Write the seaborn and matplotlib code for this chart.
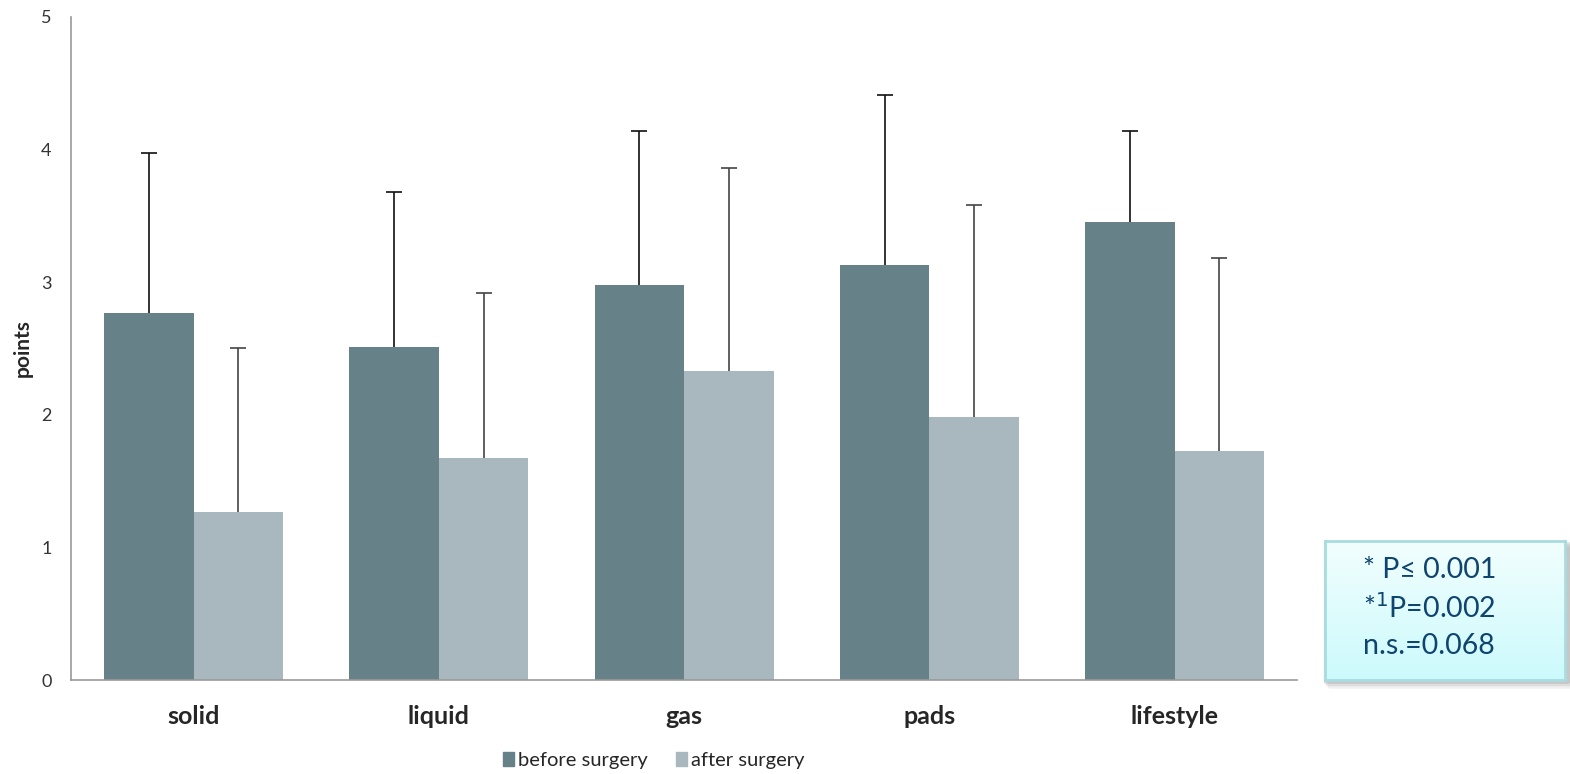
import numpy as np
import pandas as pd
import matplotlib
matplotlib.use("Agg")
import matplotlib.pyplot as plt
import seaborn as sns
from matplotlib.patches import FancyBboxPatch, Patch
from matplotlib.colors import LinearSegmentedColormap

# values
categories = ["solid", "liquid", "gas", "pads", "lifestyle"]
before = [2.77, 2.51, 2.98, 3.13, 3.45]
after = [1.27, 1.67, 2.33, 1.98, 1.73]
before_sd = [1.20, 1.17, 1.16, 1.28, 0.69]
after_sd = [1.23, 1.25, 1.53, 1.60, 1.45]
groups = ["before surgery", "after surgery"]
colors = ["#668187", "#A9B7BE"]

df = pd.DataFrame({
    "cat": categories * 2,
    "group": [groups[0]] * 5 + [groups[1]] * 5,
    "val": before + after,
})

sns.set_style("white")
plt.rcParams["font.family"] = ["Lato", "DejaVu Sans"]

fig = plt.figure(figsize=(15.7, 7.74), dpi=100)
ax = fig.add_axes([0.0452, 0.1214, 0.781, 0.857])

sns.barplot(data=df, x="cat", y="val", hue="group", palette=colors,
            width=0.73, gap=0, errorbar=None, saturation=1, linewidth=0,
            ax=ax, legend=False)

# upward-only error bars (stem + top cap only)
for cont, sd, ec in zip(ax.containers, [before_sd, after_sd], ["#111111", "#444444"]):
    xs = np.array([p.get_x() + p.get_width() / 2 for p in cont.patches])
    ys = np.array([p.get_height() for p in cont.patches])
    tops = ys + np.array(sd)
    ax.vlines(xs, ys, tops, color=ec, linewidth=1.2, zorder=3)
    ax.plot(xs, tops, ls="none", marker="_", markersize=11, mew=1.2,
            color=ec, zorder=3)

ax.set_ylim(0, 5)
ax.set_xlim(-0.5, 4.5)
ax.set_yticks([0, 1, 2, 3, 4, 5])
ax.tick_params(axis="y", length=0, pad=14, labelsize=13, labelcolor="#333333")
ax.tick_params(axis="x", length=0, pad=18)
for t in ax.get_xticklabels():
    t.set_fontweight("bold")
    t.set_fontsize(18)
ax.set_xlabel("")
ax.set_ylabel("points", fontweight="bold", fontsize=15, labelpad=6)
for s in ["top", "right"]:
    ax.spines[s].set_visible(False)
for s in ["left", "bottom"]:
    ax.spines[s].set_color("#999999")
    ax.spines[s].set_linewidth(1.2)

handles = [Patch(color=c, label=g) for c, g in zip(colors, groups)]
fig.legend(handles=handles, loc="center", bbox_to_anchor=(0.4166, 0.017), ncol=2,
           frameon=False, fontsize=14.5, handlelength=0.55, handleheight=0.7,
           handletextpad=0.2, columnspacing=1.4)

# p-value note box: soft shadow + vertical gradient fill
bx, by, bw, bh = 1325 / 1570, 94 / 774, 240 / 1570, 139 / 774
for k, a in enumerate([0.10, 0.15, 0.22]):
    off = (6 - 2 * k) / 1570
    fig.patches.append(FancyBboxPatch((bx + off, by - off * 1570 / 774 * 1.2), bw, bh,
                                      boxstyle="round,pad=0.002", transform=fig.transFigure,
                                      facecolor="#777777", edgecolor="none", alpha=a,
                                      zorder=0))
gax = fig.add_axes([bx, by, bw, bh])
gax.set_zorder(2)
grad = LinearSegmentedColormap.from_list("g", ["#CCFAFC", "#F2FEFE"])
gax.imshow(np.linspace(0, 1, 100)[:, None], aspect="auto", cmap=grad, origin="lower",
           extent=[0, 1, 0, 1])
gax.set_xticks([])
gax.set_yticks([])
for s in gax.spines.values():
    s.set_color("#A9DCDF")
    s.set_linewidth(2)

note = ["* P\u2264 0.001", "*$^{1}$P=0.002", "n.s.=0.068"]
for i, line in enumerate(note):
    gax.text((1363 - 1325) / 240, (680 - 570 + 38 * 0 - 38 * i) / 139 + 0, line,
             transform=gax.transAxes, color="#0E4470",
             fontsize=20.5, va="center", ha="left")

fig.savefig("out.png", dpi=100)
